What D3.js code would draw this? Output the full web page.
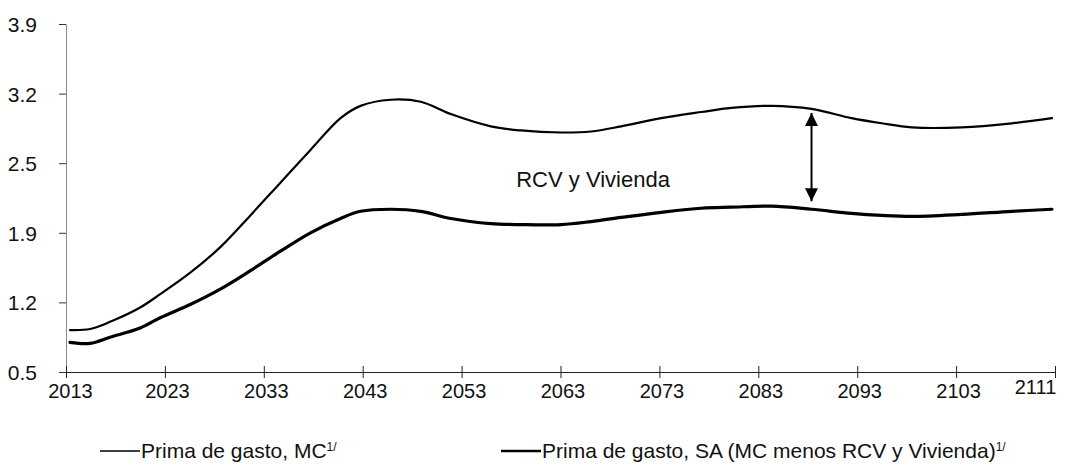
<!DOCTYPE html>
<html>
<head>
<meta charset="utf-8">
<script src="https://cdn.jsdelivr.net/npm/d3@7"></script>
<style>
  html, body { margin: 0; padding: 0; background: #fff; }
  #chart { width: 1075px; height: 471px; }
  text { font-family: "Liberation Sans", Arial, sans-serif; fill: #111; }
</style>
</head>
<body>
<div id="chart"></div>
<script>
// ==========================
// Data
// ==========================

const years = [2013, 2015, 2017, 2020, 2022, 2025, 2028, 2031, 2034, 2037, 2040, 2042, 2045, 2048, 2051,
    2055, 2058, 2062, 2065, 2068, 2072, 2076, 2079, 2083, 2087, 2091, 2094, 2097, 2102, 2107, 2111];

const primaMC = [0.91, 0.92, 0.99, 1.13, 1.26, 1.47, 1.72, 2.03, 2.35, 2.67, 2.98, 3.10, 3.16, 3.14, 3.02,
    2.90, 2.86, 2.84, 2.85, 2.90, 2.98, 3.04, 3.08, 3.10, 3.07, 2.98, 2.93, 2.89, 2.89, 2.93, 2.98];

const primaSA = [0.79, 0.78, 0.84, 0.93, 1.03, 1.16, 1.31, 1.49, 1.68, 1.86, 2.00, 2.07, 2.09, 2.07, 2.00,
    1.95, 1.94, 1.94, 1.97, 2.01, 2.06, 2.10, 2.11, 2.12, 2.09, 2.05, 2.03, 2.02, 2.04, 2.07, 2.09];

const xTickLabels = ["2013", "2023", "2033", "2043", "2053", "2063", "2073", "2083", "2093", "2103", "2111"];

const yTicks = [0.5, 1.18, 1.86, 2.54, 3.22, 3.9];
const yTickLabels = ["0.5", "1.2", "1.9", "2.5", "3.2", "3.9"];

const arrowYear = 2087;
const annotation = "RCV y Vivienda";

const legendItems = [
    { label: "Prima de gasto, MC", sup: "1/", width: 2.2 },
    { label: "Prima de gasto, SA (MC menos RCV y Vivienda)", sup: "1/", width: 3.2 }
];

// ==========================
// SVG Setup
// ==========================

const width = 1075;
const height = 471;

const svg = d3.select("#chart").append("svg")
    .attr("width", width)
    .attr("height", height);

const axisLeftX = 66;
const axisRightX = 1055;
const plotTop = 24;
const plotBottom = 372;

// ==========================
// Scales
// ==========================

const yScale = d3.scaleLinear()
    .domain([0.5, 3.9])
    .range([plotBottom, plotTop]);

// category ticks are evenly spaced along the axis
const xTickScale = d3.scalePoint()
    .domain(xTickLabels)
    .range([axisLeftX, axisRightX]);

// data points sit half a category inside the axis ends
const xScale = d3.scaleLinear()
    .domain([2013, 2111])
    .range([70, 1052]);

// ==========================
// Axes
// ==========================

const yAxis = svg.append("g")
    .attr("transform", `translate(${axisLeftX},0)`)
    .call(
        d3.axisLeft(yScale)
            .tickValues(yTicks)
            .tickFormat((d, i) => yTickLabels[i])
            .tickSize(7)
            .tickPadding(22)
            .tickSizeOuter(0)
    );

yAxis.select(".domain")
    .attr("stroke", "#888")
    .attr("stroke-width", 1);

yAxis.selectAll(".tick line")
    .attr("stroke", "#333");

yAxis.selectAll(".tick text")
    .style("font-size", "21px")
    .attr("dy", "0.36em");

const xAxis = svg.append("g")
    .attr("transform", `translate(0,${plotBottom})`)
    .call(
        d3.axisBottom(xTickScale)
            .tickSize(6)
            .tickPadding(6)
            .tickSizeOuter(0)
    );

xAxis.select(".domain")
    .attr("stroke", "#222")
    .attr("stroke-width", 1);

// ticks cross the axis line
xAxis.selectAll(".tick line")
    .attr("y1", -6)
    .attr("y2", 6)
    .attr("stroke", "#222");

xAxis.selectAll(".tick text")
    .style("font-size", "20px")
    .attr("dx", d => d === "2013" ? 4 : d === "2111" ? -20 : 2)
    .attr("dy", d => d === "2111" ? "0.5em" : "0.71em");

// ==========================
// Lines
// ==========================

const line = d3.line()
    .x(d => xScale(d.year))
    .y(d => yScale(d.value))
    .curve(d3.curveCatmullRom.alpha(0.5));

const series = [
    { values: primaMC, width: legendItems[0].width },
    { values: primaSA, width: legendItems[1].width }
];

svg.selectAll(".series")
    .data(series)
    .enter()
    .append("path")
    .attr("class", "series")
    .attr("fill", "none")
    .attr("stroke", "#000")
    .attr("stroke-width", d => d.width)
    .attr("stroke-linejoin", "round")
    .attr("stroke-linecap", "round")
    .attr("d", d => line(years.map((y, i) => ({ year: y, value: d.values[i] }))));

// ==========================
// Double arrow + label
// ==========================

const defs = svg.append("defs");

defs.append("marker")
    .attr("id", "arrow")
    .attr("viewBox", "0 0 10 10")
    .attr("refX", 10)
    .attr("refY", 5)
    .attr("markerWidth", 15)
    .attr("markerHeight", 13)
    .attr("markerUnits", "userSpaceOnUse")
    .attr("orient", "auto-start-reverse")
    .append("path")
    .attr("d", "M0,0L10,5L0,10Z")
    .attr("fill", "#000");

const arrowIdx = years.indexOf(arrowYear);

svg.append("line")
    .attr("x1", xScale(arrowYear))
    .attr("x2", xScale(arrowYear))
    .attr("y1", yScale(primaMC[arrowIdx]) + 4)
    .attr("y2", yScale(primaSA[arrowIdx]) - 8)
    .attr("stroke", "#000")
    .attr("stroke-width", 2)
    .attr("marker-start", "url(#arrow)")
    .attr("marker-end", "url(#arrow)");

svg.append("text")
    .attr("x", xScale(2065.2))
    .attr("y", yScale(2.31))
    .attr("text-anchor", "middle")
    .style("font-size", "22px")
    .text(annotation);

// ==========================
// Legend
// ==========================

const legend = svg.selectAll(".legend-item")
    .data(legendItems)
    .enter()
    .append("g")
    .attr("class", "legend-item")
    .attr("transform", (d, i) => `translate(${i === 0 ? 100 : 501},451)`);

legend.append("line")
    .attr("x1", 0)
    .attr("x2", 40)
    .attr("y1", 0)
    .attr("y2", 0)
    .attr("stroke", "#000")
    .attr("stroke-width", d => d.width - 0.6);

const legendText = legend.append("text")
    .attr("x", 41)
    .attr("y", 0)
    .attr("dy", "0.35em")
    .style("font-size", "21px");

legendText.append("tspan")
    .text(d => d.label);

legendText.append("tspan")
    .attr("dy", "-0.6em")
    .style("font-size", "12px")
    .text(d => d.sup);
</script>
</body>
</html>
